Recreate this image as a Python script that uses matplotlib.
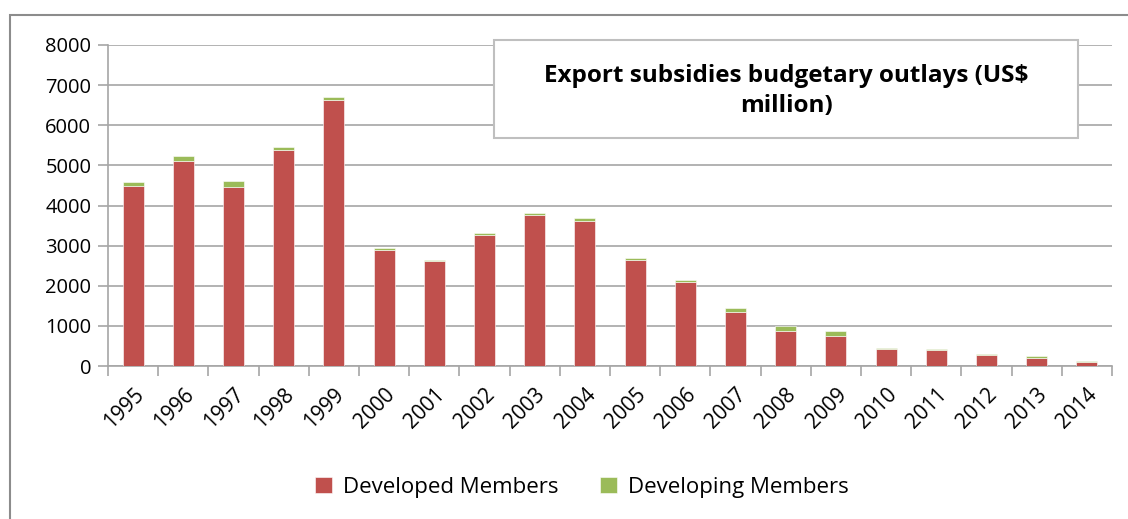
import matplotlib.pyplot as plt
from matplotlib.patches import Rectangle
import numpy as np

years = ['1995', '1996', '1997', '1998', '1999', '2000', '2001', '2002', '2003', '2004',
         '2005', '2006', '2007', '2008', '2009', '2010', '2011', '2012', '2013', '2014']
developed = [4490, 5100, 4455, 5390, 6640, 2885, 2610, 3275, 3775, 3625,
             2635, 2085, 1355, 875, 740, 425, 390, 265, 205, 100]
developing = [100, 125, 165, 65, 65, 60, 35, 40, 40, 65,
              65, 65, 90, 115, 135, 35, 35, 35, 35, 35]

red = '#C0504D'
green = '#9BBB59'
grid_col = '#A6A6A6'

plt.rcParams['font.family'] = ['Open Sans', 'DejaVu Sans']

fig = plt.figure(figsize=(11.28, 5.19), dpi=100)
ax = fig.add_axes([108 / 1128, 1 - 366 / 519, (1112 - 108) / 1128, (366 - 45) / 519])

x = np.arange(len(years))
ax.bar(x, developed, width=0.42, color=red, edgecolor='white', linewidth=0.4, zorder=3,
       label='Developed Members')
ax.bar(x, developing, width=0.42, bottom=developed, color=green, edgecolor='white',
       linewidth=0.4, zorder=3, label='Developing Members')

ax.set_xlim(-0.5, len(years) - 0.5)
ax.set_ylim(0, 8000)
ax.set_yticks(range(0, 8001, 1000))
ax.yaxis.grid(True, color=grid_col, linewidth=1.2, zorder=0)
ax.tick_params(axis='y', labelsize=14.5, length=7, color=grid_col, width=1.2, pad=5)

# category ticks at boundaries, labels in the middle
ax.set_xticks(np.arange(-0.5, len(years), 1))
ax.set_xticklabels([])
ax.set_xticks(x, minor=True)
ax.set_xticklabels(years, minor=True, rotation=45, ha='right', rotation_mode='anchor',
                   fontsize=15)
ax.tick_params(axis='x', which='major', length=7, color=grid_col, width=1.2)
ax.tick_params(axis='x', which='minor', length=0, pad=13)

for s in ['top', 'right']:
    ax.spines[s].set_visible(False)
for s in ['left', 'bottom']:
    ax.spines[s].set_color(grid_col)
    ax.spines[s].set_linewidth(1.2)

# outer chart border
fig.add_artist(Rectangle((10 / 1128, -0.05), 1.2, 1 - 15 / 519 + 0.05, transform=fig.transFigure,
                         fill=False, edgecolor='#8C8C8C', linewidth=1.5))

# title box
fig.add_artist(Rectangle((494 / 1128, 1 - 138 / 519), 584 / 1128, 98 / 519,
                         transform=fig.transFigure, facecolor='white',
                         edgecolor='#BFBFBF', linewidth=1.5, zorder=5))
fig.text(786 / 1128, 1 - 91 / 519, 'Export subsidies budgetary outlays (US\\$\nmillion)',
         ha='center', va='center', fontsize=17.5, fontweight='bold', linespacing=1.35, zorder=6)

fig.legend(loc='center', bbox_to_anchor=(582 / 1128, 1 - 487 / 519), ncol=2, frameon=False,
           fontsize=16, handlelength=0.75, handleheight=0.75, columnspacing=1.9, handletextpad=0.5)

fig.savefig('out.png', dpi=100)
